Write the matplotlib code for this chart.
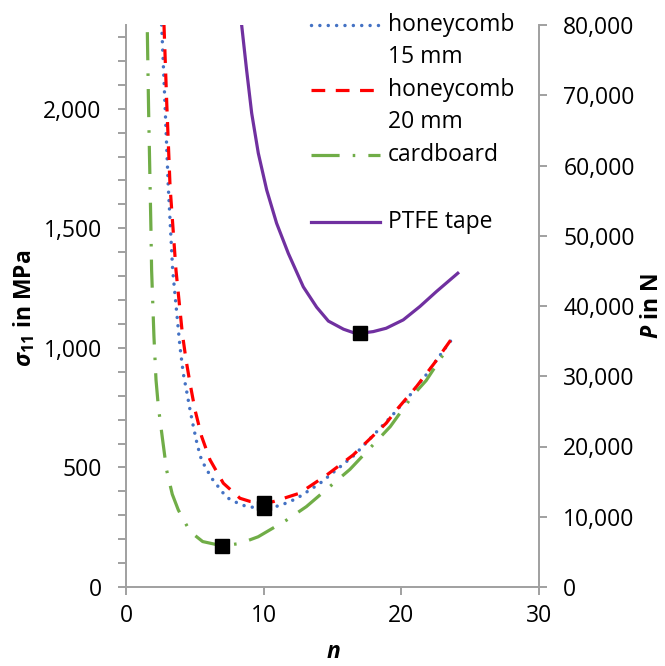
import matplotlib
matplotlib.use("Agg")
import matplotlib.pyplot as plt
from matplotlib.lines import Line2D
from matplotlib.ticker import MultipleLocator, FuncFormatter

plt.rcParams['font.family'] = ['Open Sans', 'DejaVu Sans']
plt.rcParams['mathtext.fontset'] = 'custom'
plt.rcParams['mathtext.rm'] = 'Open Sans'
plt.rcParams['mathtext.bf'] = 'Open Sans:bold'
plt.rcParams['mathtext.bfit'] = 'Open Sans:italic:bold'

# data (n vs sigma_11 in MPa)
n_hc15 = [2.59, 2.83, 3.07, 3.39, 3.92, 4.16, 4.41, 4.65, 4.89, 5.18, 5.49, 6.22, 7.07,
          7.43, 8.04, 8.64, 9.25, 10, 11.18, 12.4, 14.1, 16.6, 19.3, 20.6, 21.8, 22.95, 23.6]
s_hc15 = [2350, 2022, 1675, 1325, 1005, 893, 817, 741, 672, 594, 530, 455, 392,
          371, 353, 339, 333, 329, 340, 370, 434, 552, 715, 800, 887, 980, 1030]

n_hc20 = [2.76, 2.96, 3.2, 3.63, 4.09, 4.36, 4.65, 5.01, 5.49, 6.1, 7.07, 8.28, 9.0, 10,
          10.7, 12.6, 14.6, 16.5, 18.9, 19.66, 21.1, 22.4, 23.8]
s_hc20 = [2350, 2022, 1675, 1325, 1061, 950, 852, 741, 630, 532, 434, 371, 358, 353,
          357, 392, 469, 552, 685, 741, 838, 936, 1050]

n_card = [1.55, 1.64, 1.81, 1.86, 2.03, 2.18, 2.35, 2.64, 2.95, 3.36, 3.8, 4.65, 5.57, 7.0,
          8.28, 9.6, 11.67, 13.1, 16.27, 19.2, 19.9, 20.86, 21.8, 23.3, 23.6]
s_card = [2320, 2000, 1500, 1325, 1047, 866, 754, 624, 489, 388, 322, 232, 190, 172,
          182, 210, 280, 336, 492, 671, 727, 803, 863, 994, 1010]

n_ptfe = [8.4, 8.76, 9.13, 9.61, 10.22, 10.94, 11.79, 12.88, 13.85, 14.7, 15.8, 16.5,
          17.04, 17.96, 18.9, 20.14, 21.35, 22.56, 24.1]
s_ptfe = [2350, 2162, 1981, 1814, 1660, 1521, 1395, 1255, 1170, 1112, 1078, 1064,
          1061, 1068, 1082, 1117, 1173, 1236, 1312]

# optimum points
opt_n = [7, 10, 10, 17]
opt_s = [172, 329, 353, 1061]

labels = ['honeycomb\n15 mm', 'honeycomb\n20 mm', 'cardboard', 'PTFE tape']

blue = '#4472C4'
red = '#FF0000'
green = '#70AD47'
purple = '#7030A0'
grey = '#A0A0A0'
fs = 16.5

fig = plt.figure(figsize=(6.65, 6.66), dpi=100)
ax = fig.add_axes([126/665, 79/666, 413/665, 562/666])

ls_dot = (0, (0.01, 2.4))
ls_dash = (0, (4.3, 3.3))
ls_dashdot = (0, (8.8, 4.1, 0.8, 4.1))

ax.plot(n_hc15, s_hc15, color=blue, lw=2.5, linestyle=ls_dot, dash_capstyle='round')
ax.plot(n_hc20, s_hc20, color=red, lw=2.3, linestyle=ls_dash)
ax.plot(n_card, s_card, color=green, lw=2.3, linestyle=ls_dashdot)
ax.plot(n_ptfe, s_ptfe, color=purple, lw=2.3)
ax.plot(opt_n, opt_s, 's', color='black', markersize=9.5, linestyle='none')

ax.set_xlim(0, 30)
ax.set_ylim(0, 2350)
ax.xaxis.set_major_locator(MultipleLocator(10))
ax.yaxis.set_major_locator(MultipleLocator(500))
ax.yaxis.set_minor_locator(MultipleLocator(100))
ax.yaxis.set_major_formatter(FuncFormatter(lambda v, p: f'{v:,.0f}'))

ax2 = ax.twinx()
ax2.set_ylim(0, 80000)
ax2.yaxis.set_major_locator(MultipleLocator(10000))
ax2.yaxis.set_major_formatter(FuncFormatter(lambda v, p: f'{v:,.0f}'))

for a in (ax, ax2):
    a.spines['top'].set_visible(False)
    for s in a.spines.values():
        s.set_color(grey)
        s.set_linewidth(1.4)
    a.set_facecolor('none')
ax2.spines['left'].set_visible(False)
ax2.spines['bottom'].set_visible(False)
ax.spines['right'].set_visible(False)

ax.tick_params(axis='y', which='major', length=5.5, width=1.4, color=grey, pad=12, labelsize=fs)
ax.tick_params(axis='y', which='minor', length=5.5, width=1.4, color=grey)
ax.tick_params(axis='x', length=5.5, width=1.4, color=grey, pad=7, labelsize=fs)
ax2.tick_params(axis='y', length=5.5, width=1.4, color=grey, pad=12, labelsize=fs)

fig.text(24/665, 1 - 308/666, r'$\mathbfit{\sigma}_{\mathbf{11}}$ in MPa', rotation=90,
         ha='center', va='center', fontsize=fs, fontweight='bold')
fig.text(333/665, 1 - 652/666, r'$\mathbfit{n}$', ha='center', va='center', fontsize=fs)
fig.text(652/665, 1 - 306/666, r'$\mathbfit{P}$ in N', rotation=90,
         ha='center', va='center', fontsize=fs, fontweight='bold')

# legend drawn by hand so the handle sits on the first text line
leg_y = [25, 90, 155, 222]
leg_style = [(blue, ls_dot, 2.5, 'round'), (red, ls_dash, 2.3, 'butt'),
             (green, ls_dashdot, 2.3, 'butt'), (purple, '-', 2.3, 'butt')]
for lab, yy, (c, lsty, lw, cap) in zip(labels, leg_y, leg_style):
    fig.add_artist(Line2D([311/665, 380/665], [1 - yy/666, 1 - yy/666], color=c,
                          linestyle=lsty, lw=lw, dash_capstyle=cap))
    for i, line in enumerate(lab.split('\n')):
        fig.text(388/665, 1 - (yy + 32*i)/666, line, ha='left', va='center', fontsize=fs)

fig.savefig('out.png', dpi=100)
